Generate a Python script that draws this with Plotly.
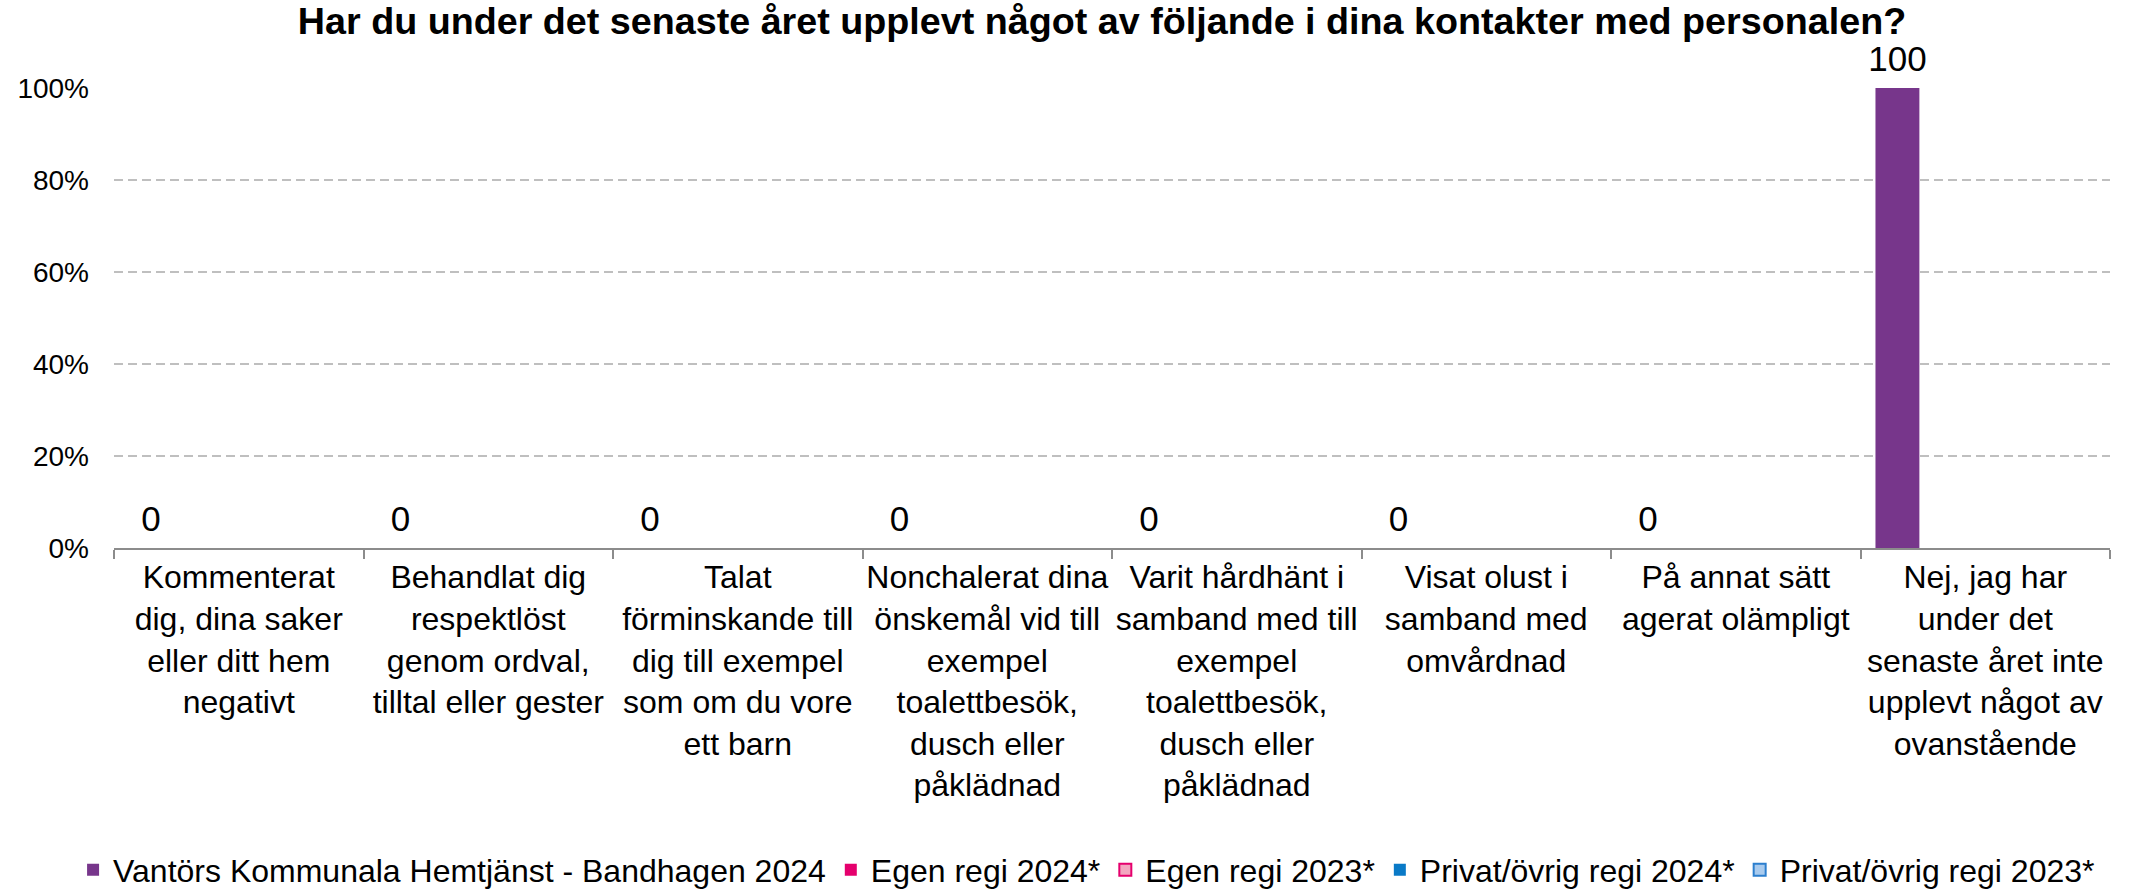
import plotly.graph_objects as go

title_text = "Har du under det senaste året upplevt något av följande i dina kontakter med personalen?"

categories = [
    "Kommenterat<br>dig, dina saker<br>eller ditt hem<br>negativt",
    "Behandlat dig<br>respektlöst<br>genom ordval,<br>tilltal eller gester",
    "Talat<br>förminskande till<br>dig till exempel<br>som om du vore<br>ett barn",
    "Nonchalerat dina<br>önskemål vid till<br>exempel<br>toalettbesök,<br>dusch eller<br>påklädnad",
    "Varit hårdhänt i<br>samband med till<br>exempel<br>toalettbesök,<br>dusch eller<br>påklädnad",
    "Visat olust i<br>samband med<br>omvårdnad",
    "På annat sätt<br>agerat olämpligt",
    "Nej, jag har<br>under det<br>senaste året inte<br>upplevt något av<br>ovanstående",
]

series_names = [
    "Vantörs Kommunala Hemtjänst - Bandhagen 2024",
    "Egen regi 2024*",
    "Egen regi 2023*",
    "Privat/övrig regi 2024*",
    "Privat/övrig regi 2023*",
]

vantors_2024 = [0, 0, 0, 0, 0, 0, 0, 100]
egen_2024 = [None, None, None, None, None, None, None, None]
egen_2023 = [None, None, None, None, None, None, None, None]
privat_2024 = [None, None, None, None, None, None, None, None]
privat_2023 = [None, None, None, None, None, None, None, None]

y_ticks = [0, 20, 40, 60, 80, 100]
y_tick_labels = ["0%", "20%", "40%", "60%", "80%", "100%"]

series_values = [vantors_2024, egen_2024, egen_2023, privat_2024, privat_2023]
fill_colors = ["#77368B", "#E5006D", "#F3A7C0", "#0A7AC7", "#A9CBEE"]
line_colors = ["#77368B", "#E5006D", "#E5006D", "#0A7AC7", "#2C7FCE"]
line_widths = [0, 0, 2, 0, 2]

FONT = "Liberation Sans, Arial, sans-serif"
n = len(series_names)
gap = 0.12
w = (1 - gap) / n
x_idx = list(range(len(categories)))

fig = go.Figure()
for k in range(n):
    fig.add_trace(go.Bar(
        x=x_idx,
        y=series_values[k],
        name=series_names[k],
        width=w,
        offset=-0.5 + gap / 2 + k * w,
        marker=dict(color=fill_colors[k],
                    line=dict(color=line_colors[k], width=line_widths[k])),
        hoverinfo="skip",
    ))

# data labels for the first series
label_x = [i - 0.5 + gap / 2 + w / 2 for i in x_idx]
fig.add_trace(go.Scatter(
    x=label_x,
    y=vantors_2024,
    mode="markers+text",
    text=[str(v) for v in vantors_2024],
    textposition="top center",
    textfont=dict(family=FONT, size=35, color="#000000"),
    marker=dict(size=12, opacity=0),
    showlegend=False,
    hoverinfo="skip",
    cliponaxis=False,
))

fig.update_layout(
    template="none",
    width=2152,
    height=891,
    margin=dict(l=114, r=42, t=88, b=343, autoexpand=False),
    paper_bgcolor="white",
    plot_bgcolor="white",
    font=dict(family=FONT, color="#000000"),
    title=dict(
        text="<b>" + title_text + "</b>",
        font=dict(family=FONT, size=37.7, color="#000000"),
        x=1102 / 2152, xanchor="center", xref="container",
        y=1 - 21 / 891, yanchor="middle", yref="container",
    ),
    showlegend=True,
    legend=dict(
        orientation="h",
        x=-0.0205, xanchor="left", xref="paper",
        y=-0.70, yanchor="middle", yref="paper",
        font=dict(family=FONT, size=32, color="#000000"),
        traceorder="normal",
        bgcolor="rgba(0,0,0,0)",
    ),
    xaxis=dict(
        range=[-0.5, len(categories) - 0.5],
        tickmode="array",
        tickvals=x_idx,
        ticktext=categories,
        ticks="",
        showgrid=False,
        zeroline=False,
        showline=True,
        linecolor="#8C8C8C",
        linewidth=2,
        automargin=False,
        tickfont=dict(family=FONT, size=32, color="#000000"),
        minor=dict(
            tickmode="array",
            tickvals=[i - 0.5 for i in range(len(categories) + 1)],
            ticks="outside",
            ticklen=9,
            tickwidth=2,
            tickcolor="#8C8C8C",
            showgrid=False,
        ),
        fixedrange=True,
    ),
    yaxis=dict(
        range=[0, 100],
        tickmode="array",
        tickvals=y_ticks,
        ticktext=y_tick_labels,
        showgrid=True,
        gridcolor="#BFBFBF",
        gridwidth=1.5,
        griddash="9px,5px",
        zeroline=False,
        showline=False,
        ticks="",
        automargin=False,
        ticklabelstandoff=24,
        tickfont=dict(family=FONT, size=28, color="#000000"),
        fixedrange=True,
    ),
)

fig.write_html(
    "out.html",
    config={"displayModeBar": False, "staticPlot": True},
    post_script="document.body.style.margin='0';document.body.style.overflow='hidden';",
)
